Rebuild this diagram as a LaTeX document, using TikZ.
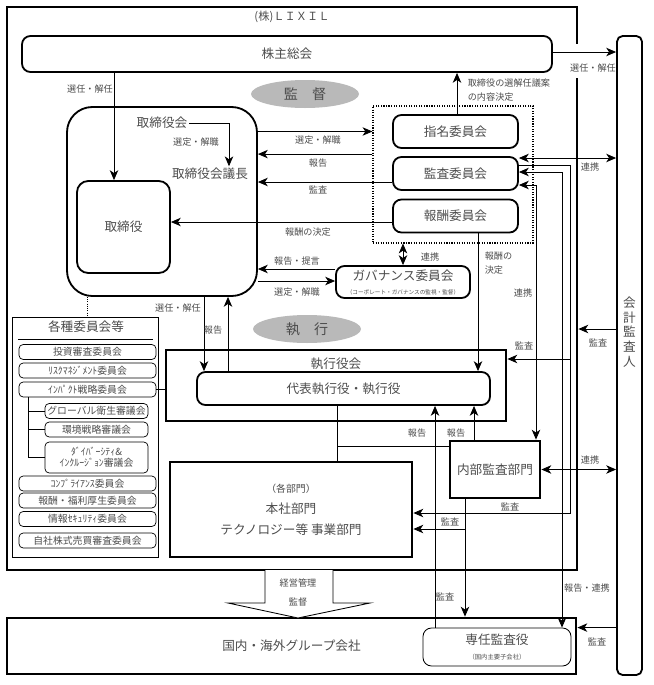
\documentclass[tikz,border=0pt]{standalone}
\usepackage{fontspec}
\setmainfont{Noto Sans CJK JP}
\usetikzlibrary{shapes.geometric,arrows.meta}
\newcommand{\pu}{0.025cm}
\definecolor{txt}{gray}{0.3}
\begin{document}
\begin{tikzpicture}[x=0.025cm,y=-0.025cm,line width=0.6pt,>={Stealth[length=7pt,width=6pt,inset=2pt]}]
\tikzstyle{rbox}=[draw,rounded corners=6pt,line width=1.3pt,text=txt,font=\fontsize{9}{11}\selectfont,inner sep=0pt]
\tikzstyle{tbox}=[draw,rectangle,line width=2pt,text=txt,font=\fontsize{9}{11}\selectfont,inner sep=0pt]
\tikzstyle{sbox}=[draw,rounded corners=3pt,line width=0.5pt,text=txt,font=\fontsize{7}{8}\selectfont,inner sep=0pt,minimum height=15*\pu]
\tikzstyle{txtn}=[text=txt,font=\fontsize{9}{11}\selectfont,inner sep=1pt]
\tikzstyle{lbl}=[text=txt,font=\fontsize{6.5}{9.5}\selectfont,inner sep=1pt]
\tikzstyle{oval}=[ellipse,fill=gray!55,text=txt,font=\fontsize{10}{12}\selectfont,inner sep=0pt,minimum width=108*\pu,minimum height=28*\pu]
\useasboundingbox (0,0) rectangle (653,685);

% LIXIL frame and shareholders
\node[tbox,minimum width=570*\pu,minimum height=563*\pu] (lixil) at (292,288.5) {};
\node[txtn,font=\fontsize{8}{10}\selectfont] (lixilt) at (292,17) {(株)ＬＩＸＩＬ};
\fill[white] (574,44) rectangle (581,78);
\node[rbox,minimum width=530*\pu,minimum height=36*\pu] (gm) at (287,54) {株主総会};
\node[rbox,rounded corners=4pt,minimum width=25*\pu,minimum height=639*\pu] (auditor) at (629.5,355.5) {};
\node[txtn,align=center,inner sep=0pt,font=\fontsize{9}{10.5}\selectfont] (audtxt) at (629.5,332) {会\\計\\監\\査\\人};
\draw[->] ([yshift=2*\pu]gm.east) -- ([yshift=2*\pu]gm.east -| auditor.west);
\node[lbl] (l1) at (593,68) {選任・解任};

% board of directors
\node[oval] (sup) at (305,94) {監　督};
\node[rbox,rounded corners=18pt,minimum width=190*\pu,minimum height=189*\pu] (board) at (162,201.5) {};
\node[rbox,rounded corners=8pt,minimum width=93*\pu,minimum height=92*\pu] (dirs) at (123.5,227) {取締役};
\node[txtn] (bdmeet) at (162,123) {取締役会};
\node[txtn] (chair) at (210,174) {取締役会議長};
\draw[->] (bdmeet.east) -| ([xshift=19*\pu]chair.north);
\node[lbl] (l4) at (196,142) {選定・解職};
\draw[->] ([xshift=-9.5*\pu]dirs.north |- gm.south) -- ([xshift=-9.5*\pu]dirs.north);
\node[lbl] (l3) at (90,89) {選任・解任};

% committees
\node[draw,densely dotted,line width=0.8pt,minimum width=160*\pu,minimum height=137*\pu] (cmtes) at (453,174.5) {};
\node[rbox,minimum width=125*\pu,minimum height=33*\pu] (nomi) at (455.5,131.5) {指名委員会};
\node[rbox,minimum width=125*\pu,minimum height=33*\pu] (audc) at (455.5,173.5) {監査委員会};
\node[rbox,minimum width=125*\pu,minimum height=33*\pu] (comp) at (455.5,216) {報酬委員会};
\draw[->] ([xshift=1.5*\pu]nomi.north) -- ([xshift=1.5*\pu]nomi.north |- gm.south);
\node[lbl,anchor=west,align=left] (l2) at (466,90) {取締役の選解任議案\\の内容決定};
\coordinate (r1) at ([yshift=2*\pu]audc.north);
\coordinate (r2) at ([yshift=-8.5*\pu]audc.west);
\coordinate (r3) at ([yshift=-6*\pu]comp.west);
\draw[->] (board.east |- nomi.west) -- (cmtes.west |- nomi.west);
\draw[->] (cmtes.west |- r1) -- (board.east |- r1);
\draw[->] (r2) -- (board.east |- r2);
\draw[->] (r3) -- (dirs.east |- r3);
\node[lbl] (l5) at (318,140) {選定・解職};
\node[lbl] (l6) at (318,163) {報告};
\node[lbl] (l7) at (318,190) {監査};
\node[lbl] (l8) at (308,232) {報酬の決定};

% governance committee
\node[rbox,align=center,minimum width=134*\pu,minimum height=32*\pu] (gov) at (403,282) {ガバナンス委員会\\[-1pt]{\fontsize{4}{5}\selectfont （コーポレート・ガバナンスの監視・監督）}};
\draw[<->] (gov.north) -- (gov.north |- cmtes.south);
\node[lbl] (l9) at (430,257) {連携};
\coordinate (g1) at ([yshift=13*\pu]gov.west);
\coordinate (g2) at ([yshift=1*\pu]gov.west);
\draw[->] (g1) -- (board.east |- g1);
\draw[->] (board.east |- g2) -- (g2);
\node[lbl] (l10) at (297,261) {報告・提言};
\node[lbl] (l11) at (297,292) {選定・解職};

% various committees
\node[draw,line width=0.6pt,minimum width=146*\pu,minimum height=240*\pu] (misc) at (85,437) {};
\node[txtn] (misct) at (86,327) {各種委員会等};
\draw (18,339) -- (153,339);
\foreach \n/\y/\t in {c1/352/投資審査委員会,c2/370.5/ﾘｽｸﾏﾈｼﾞﾒﾝﾄ委員会,c3/389.5/ｲﾝﾊﾟｸﾄ戦略委員会,c4/483.5/ｺﾝﾌﾟﾗｲｱﾝｽ委員会,c5/500.5/報酬・福利厚生委員会,c6/519/情報ｾｷｭﾘﾃｨ委員会,c7/540.5/自社株式売買審査委員会}
  \node[sbox,minimum width=137*\pu] (\n) at (87.5,\y) {\t};
\node[sbox,minimum width=103*\pu] (s1) at (96.5,411) {グローバル衛生審議会};
\node[sbox,minimum width=103*\pu] (s2) at (96.5,429.5) {環境戦略審議会};
\node[sbox,minimum width=103*\pu,minimum height=31*\pu,align=center] (s3) at (96.5,457.5) {ﾀﾞｲﾊﾞｰｼﾃｨ\&\\ｲﾝｸﾙｰｼﾞｮﾝ審議会};
\coordinate (tr) at ([xshift=-59.5*\pu]c3.south);
\draw (tr) |- (s3.west);
\draw (tr |- s1.west) -- (s1.west);
\draw (tr |- s2.west) -- (s2.west);
\draw[densely dotted] ([xshift=-75*\pu]board.south) -- ([xshift=-75*\pu]board.south |- misc.north);

% execution
\node[oval] (exec) at (307,329) {執　行};
\node[tbox,minimum width=340*\pu,minimum height=71*\pu] (excom) at (336,385.5) {};
\node[txtn] (exct) at (336,364) {執行役会};
\node[rbox,minimum width=293*\pu,minimum height=33*\pu] (ceo) at (343.5,388.5) {代表執行役・執行役};
\draw (c3.east) -- (c3.east -| excom.west);
\draw[->] ([xshift=42*\pu]board.south) -- ([xshift=42*\pu]board.south |- ceo.north);
\draw[<-] ([xshift=66*\pu]board.south) -- ([xshift=66*\pu]board.south |- ceo.north);
\node[lbl] (l15) at (178,308) {選任・解任};
\node[lbl] (l16) at (213,330) {報告};
\coordinate (cpS) at ([xshift=22.5*\pu]comp.south);
\draw[->] (cpS) -- (cpS |- ceo.north);
\node[lbl,anchor=west,align=left] (l12) at (483,263) {報酬の\\決定};

% departments and internal audit
\node[tbox,align=center,minimum width=242*\pu,minimum height=95*\pu,font=\fontsize{9}{15}\selectfont] (depts) at (291,509.5) {{\fontsize{7}{15}\selectfont（各部門）}\\本社部門\\テクノロジー等\ 事業部門};
\node[tbox,minimum width=90*\pu,minimum height=57*\pu] (ia) at (495,469.5) {内部監査部門};
\coordinate (cS) at ([xshift=-6.5*\pu]ceo.south);
\coordinate (iB) at ([yshift=23.5*\pu]ia.west);
\draw (cS) -- (cS |- depts.north);
\draw (cS |- iB) -- (iB);

% group companies
\node[tbox,minimum width=569*\pu,minimum height=56*\pu] (group) at (291.5,646) {国内・海外グループ会社};
\node[rbox,line width=0.6pt,align=center,minimum width=148*\pu,minimum height=38*\pu] (sia) at (497,647) {専任監査役\\[-1pt]{\fontsize{4.5}{5}\selectfont（国内主要子会社）}};
\draw[fill=white] (265,570) -- (265,603) -- (228,603) -- (298,618) -- (370,603) -- (333,603) -- (333,570);
\node[lbl] (l27) at (298,583) {経営管理};
\node[lbl] (l28) at (298,602) {監督};

% audit and report lines
\coordinate (vA) at (570,0);
\coordinate (dA) at ([yshift=-3.5*\pu]depts.east);
\coordinate (dB) at ([yshift=-19.5*\pu]depts.east);
\coordinate (eA) at ([yshift=26.5*\pu]excom.east);
\coordinate (iaS) at ([xshift=-30*\pu]ia.south);
\draw[->] ([yshift=8.5*\pu]audc.east) -| (vA |- dA) -- (dA);
\draw[->] (vA |- eA) -- (eA);
\draw[<->] ([yshift=1.5*\pu]audc.east) -| ([xshift=65*\pu]sia.north);
\draw[<->] ([yshift=-11.5*\pu]audc.east) -| ([xshift=41*\pu]ia.north);
\draw[<->] ([yshift=15.5*\pu]audc.east) -- ([yshift=15.5*\pu]audc.east -| auditor.west);
\draw[<->] (ia.east) -- (ia.east -| auditor.west);
\draw[->] (auditor.west |- exec) -- (lixil.east |- exec);
\draw[->] (auditor.west |- sia.north) -- (group.east |- sia.north);
\draw[->] (iaS) -- (iaS |- group.north);
\draw[->] (iaS |- dB) -- (dB);
\draw[->] ([xshift=-62*\pu]sia.north) -- ([xshift=-62*\pu]sia.north |- ceo.south);
\draw[->] ([xshift=-21*\pu]ia.north) -- ([xshift=-21*\pu]ia.north |- ceo.south);
\node[lbl] (l13) at (523,293) {連携};
\node[lbl] (l14) at (590,167) {連携};
\node[lbl] (l17) at (524,346) {監査};
\node[lbl] (l18) at (598,343) {監査};
\node[lbl] (l19) at (417,433) {報告};
\node[lbl] (l20) at (456,433) {報告};
\node[lbl] (l21) at (590,460) {連携};
\node[lbl] (l22) at (510,507) {監査};
\node[lbl] (l23) at (450,522) {監査};
\node[lbl] (l24) at (445,597) {監査};
\node[lbl] (l25) at (587,588) {報告・連携};
\node[lbl] (l26) at (597,642) {監査};
\end{tikzpicture}
\end{document}
